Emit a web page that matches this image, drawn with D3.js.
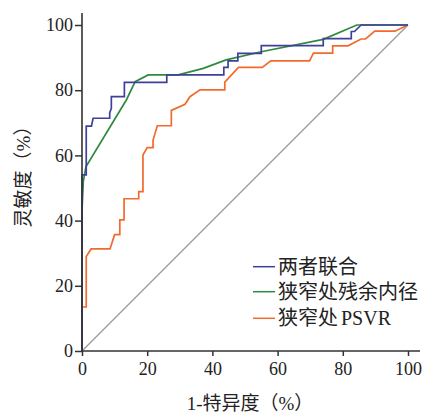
<!DOCTYPE html>
<html><head><meta charset="utf-8">
<script src="https://cdn.jsdelivr.net/npm/d3@7"></script>
<style>
body{margin:0;background:#fff;}
svg{display:block;}
text{font-family:"Liberation Serif","Noto Sans CJK SC",serif;fill:#222;}
tspan.lat{font-family:"Liberation Serif",serif;}
</style></head>
<body><svg id="c" width="427" height="414"></svg>
<script>
const xTicks = [0,20,40,60,80,100];
const yTicks = [0,20,40,60,80,100];
const seriesNames = ["两者联合","狭窄处残余内径","狭窄处PSVR"];
const seriesColors = ["#3f3f9c","#2f8a3f","#f26a2c"];
const combinedFPR = [0,0,1.3,1.3,2.9,3.4,8.5,8.5,9.0,9.0,13,13,26,26,43.5,43.5,44.8,44.8,47.8,47.8,55,55,74,74,82.6,82.6,83.6,85.6,100];
const combinedTPR = [0,54,54,69,69,71.4,71.4,73.1,74.4,78,78,82.4,82.4,84.7,84.7,87,87,89,89,91.3,91.3,93.7,93.7,95.8,95.8,98,98,100,100];
const diameterFPR = [0,0,0.4,1.2,13.6,16.3,20.3,29.5,37.2,44.2,55,74,84.3,100];
const diameterTPR = [0,43,52,56.5,77,82.6,84.7,84.7,86.7,89.3,91.8,95.6,100,100];
const psvrFPR = [0,0,1.3,1.3,2.8,8.6,10,11.6,11.6,12.9,12.9,17.4,17.4,18.7,18.7,20,21.8,21.8,23.1,27.4,27.4,31.6,33.1,36.2,43.8,43.8,48,55.3,57.9,69.8,71,76.9,76.9,81.6,85.6,87,89.8,96,100];
const psvrTPR = [0,13.5,13.5,29,31.3,31.3,35.7,35.7,40.2,40.2,46.7,46.7,48.9,48.9,60.1,62.4,62.4,64.7,69.1,69.1,73.8,75.7,78,80.1,80.1,82.5,87,87,89,89,91.4,91.4,93.6,93.6,95.7,95.7,98.1,98.1,100];
const refFPR = [0,100];
const refTPR = [0,100];

const svg = d3.select("#c");
const x = d3.scaleLinear().domain([0,100]).range([82,408]);
const y = d3.scaleLinear().domain([0,100]).range([351,25]);

const line = d3.line().x(d=>x(d[0])).y(d=>y(d[1]));
svg.append("path").datum(d3.zip(refFPR,refTPR)).attr("d",line)
  .attr("fill","none").attr("stroke","#999").attr("stroke-width",1.3);

const series = [d3.zip(combinedFPR,combinedTPR), d3.zip(diameterFPR,diameterTPR), d3.zip(psvrFPR,psvrTPR)];
[2,1,0].forEach(i=>{
  svg.append("path").datum(series[i]).attr("d",line)
    .attr("fill","none").attr("stroke",seriesColors[i]).attr("stroke-width",1.7)
    .attr("stroke-linejoin","miter");
});

const xa = svg.append("g").attr("transform","translate(0,351)")
  .call(d3.axisBottom(x).tickValues(xTicks).tickSize(5).tickPadding(6).tickSizeOuter(0));
const ya = svg.append("g").attr("transform","translate(82,0)")
  .call(d3.axisLeft(y).tickValues(yTicks).tickSize(7).tickPadding(2).tickSizeOuter(0));
[xa,ya].forEach(g=>{
  g.select(".domain").remove();
  g.selectAll("line").attr("stroke","#333").attr("stroke-width",1.5);
  g.selectAll("text").attr("font-size",18).attr("fill","#222");
});
svg.append("line").attr("x1",x(0)).attr("x2",420).attr("y1",351).attr("y2",351)
  .attr("stroke","#333").attr("stroke-width",1.6);
svg.append("line").attr("x1",82).attr("x2",82).attr("y1",351).attr("y2",13)
  .attr("stroke","#333").attr("stroke-width",1.6);

svg.append("text").attr("x",250).attr("y",410).attr("text-anchor","middle")
  .attr("font-size",19).text("1-特异度（%）");
svg.append("text").attr("transform","translate(30,172) rotate(-90)").attr("text-anchor","middle")
  .attr("font-size",19).text("灵敏度（%）");

const lg = svg.append("g");
seriesNames.forEach((n,i)=>{
  const yy = [266.7,291.7,318.3][i];
  lg.append("line").attr("x1",253).attr("x2",275).attr("y1",yy).attr("y2",yy)
    .attr("stroke",seriesColors[i]).attr("stroke-width",1.5);
  const t = lg.append("text").attr("x",278).attr("y",yy+7).attr("font-size",20);
  const m = n.match(/^([^A-Za-z]*)([A-Za-z]*)$/);
  t.append("tspan").text(m[1]);
  if (m[2]) t.append("tspan").attr("class","lat").attr("dx",3).text(m[2]);
});
</script></body></html>
